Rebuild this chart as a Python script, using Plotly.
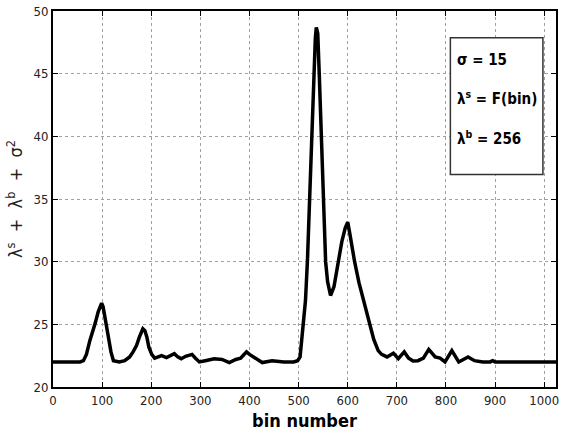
import plotly.graph_objects as go

bins = [0, 55, 62, 68, 75, 80, 86, 92, 96, 99, 102, 106, 109, 114, 118, 123, 135, 146, 156, 163, 170, 176, 180, 183, 187, 191, 195, 201, 207,
        214, 221, 231, 238, 247, 254, 261, 270, 276, 283, 290, 298, 310, 328, 344, 359, 372, 382, 388, 394, 400, 413, 426, 446, 470,
        490, 498, 503, 507, 514, 518, 522, 526, 531, 534, 536, 539, 542, 546, 550, 555, 559, 565, 572, 580, 588, 595, 600, 604, 609,
        614, 623, 632, 644, 653, 662, 669, 680, 693, 703, 715, 724, 733, 743, 754, 765, 778, 788, 798, 812, 826, 845, 858, 875, 890,
        895, 900, 1024]
values = [22.0, 22.0, 22.1, 22.6, 23.7, 24.3, 25.1, 26.0, 26.5, 26.7, 26.4, 25.5, 24.9, 23.7, 22.8, 22.1, 22.0, 22.1, 22.4, 22.8, 23.3, 24.0, 24.4, 24.65, 24.5, 24.0, 23.2, 22.6, 22.3,
          22.4, 22.5, 22.35, 22.5, 22.66, 22.4, 22.26, 22.45, 22.55, 22.6, 22.3, 22.0, 22.1, 22.25, 22.2, 21.95, 22.2, 22.3, 22.55, 22.8, 22.6, 22.26, 21.95, 22.1, 22.0,
          22.0, 22.1, 22.4, 24.3, 26.9, 30.1, 35.0, 40.0, 45.0, 47.8, 48.7, 48.2, 45.0, 40.0, 35.0, 30.0, 28.4, 27.3, 28.0, 30.0, 31.6, 32.7, 33.15, 32.3, 31.0,
          30.0, 28.3, 26.9, 25.0, 23.8, 22.9, 22.6, 22.4, 22.7, 22.26, 22.8, 22.3, 22.07, 22.1, 22.3, 23.0, 22.4, 22.3, 22.0, 22.9, 22.0, 22.4, 22.1, 22.0, 22.0,
          22.1, 22.0, 22.0]

x_ticks = [0, 100, 200, 300, 400, 500, 600, 700, 800, 900, 1000]
y_ticks = [20, 25, 30, 35, 40, 45, 50]
info_lines = ["σ = 15", "λ<sup>s</sup> = F(bin)", "λ<sup>b</sup> = 256"]

FONT = "DejaVu Sans Condensed, Liberation Sans Narrow, Arial Narrow, Liberation Sans, Arial"

fig = go.Figure()
fig.add_trace(go.Scatter(x=bins, y=values, mode="lines",
                         line=dict(color="black", width=3.5), showlegend=False))

axis_common = dict(
    showline=True, linecolor="black", linewidth=2, mirror="ticks",
    ticks="inside", ticklen=5, tickcolor="black", tickwidth=1,
    showgrid=True, gridcolor="#a0a0a0", gridwidth=1, griddash="dot",
    zeroline=False, tickfont=dict(family=FONT, size=13, color="#222"),
)
fig.update_xaxes(range=[0, 1024], tickvals=x_ticks, ticktext=[str(v) for v in x_ticks],
                 title=dict(text="<b>bin number</b>", font=dict(family=FONT, size=18, color="black"), standoff=8),
                 **axis_common)
fig.update_yaxes(range=[20, 50], tickvals=y_ticks, ticktext=[str(v) for v in y_ticks],
                 title=dict(text="λ<sup>s</sup>  +  λ<sup>b</sup>  +  σ<sup>2</sup>",
                            font=dict(family=FONT, size=18, color="#222"), standoff=6),
                 **axis_common)

fig.add_shape(type="rect", xref="paper", yref="paper", x0=0.790, x1=0.974, y0=0.565, y1=0.929,
              line=dict(color="#333", width=1.5), fillcolor="white", layer="above")
for txt, yy in zip(info_lines, [0.871, 0.768, 0.662]):
    fig.add_annotation(xref="paper", yref="paper", x=0.799, y=yy, text="<b>" + txt + "</b>",
                       showarrow=False, xanchor="left", yanchor="middle",
                       font=dict(family=FONT, size=15, color="black"))

fig.update_layout(width=563, height=445, margin=dict(l=53, r=4, t=9, b=58),
                  plot_bgcolor="white", paper_bgcolor="white")
fig.write_html("out.html")
